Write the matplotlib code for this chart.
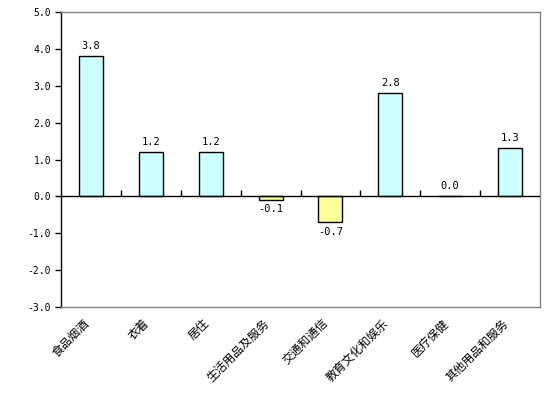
import matplotlib
matplotlib.use('Agg')
import matplotlib.pyplot as plt
import matplotlib.transforms as mtransforms
import numpy as np

plt.rcParams['font.family'] = ['Noto Sans CJK SC', 'DejaVu Sans']

# Data
categories = ['食品烟酒', '衣着', '居住', '生活用品及服务',
              '交通和通信', '教育文化和娱乐', '医疗保健', '其他用品和服务']
values = [3.8, 1.2, 1.2, -0.1, -0.7, 2.8, 0.0, 1.3]
y_ticks = [-3.0, -2.0, -1.0, 0.0, 1.0, 2.0, 3.0, 4.0, 5.0]

num_font = 'DejaVu Sans Mono'

fig = plt.figure(figsize=(5.53, 3.94), dpi=100)
ax = fig.add_axes([0.1103, 0.2208, 0.8662, 0.7487])

x = np.arange(len(categories))
colors = ['#CCFFFF' if v >= 0 else '#FFFF99' for v in values]
ax.bar(x, values, width=0.4, color=colors, edgecolor='black', linewidth=1.0, zorder=3)

# Value labels
for xi, v in zip(x, values):
    if v >= 0:
        ax.text(xi, v + 0.15, f'{v:.1f}', ha='center', va='bottom',
                fontsize=7.5, family=num_font)
    else:
        ax.text(xi, v - 0.12, f'{v:.1f}', ha='center', va='top',
                fontsize=7.5, family=num_font)

# Zero line with category-boundary ticks pointing up
ax.axhline(0, color='black', linewidth=1.0, zorder=4)
bounds = np.arange(len(categories)) + 0.5
ax.plot(bounds[:-1], np.zeros(len(bounds) - 1), linestyle='none', marker=2,
        markersize=4, color='black', markeredgewidth=1.0, zorder=4)

ax.set_xlim(-0.5, len(categories) - 0.5)
ax.set_ylim(-3.0, 5.0)
ax.set_yticks(y_ticks)
ax.set_yticklabels([f'{t:.1f}' for t in y_ticks], fontsize=7, family=num_font)
ax.tick_params(axis='y', direction='out', length=4, width=1, pad=3)

ax.set_xticks(x)
ax.set_xticklabels(categories, rotation=45, ha='right', rotation_mode='anchor', fontsize=8.5)
ax.tick_params(axis='x', length=0, pad=7)

# Nudge category labels a little to the left
shift = mtransforms.ScaledTranslation(-6 / 72, 0, fig.dpi_scale_trans)
for lbl in ax.get_xticklabels():
    lbl.set_transform(lbl.get_transform() + shift)

for side in ['top', 'right', 'bottom']:
    ax.spines[side].set_color('#808080')
    ax.spines[side].set_linewidth(1.0)
ax.spines['left'].set_color('black')
ax.spines['left'].set_linewidth(1.0)

plt.savefig('out.png', dpi=100)
plt.close()
